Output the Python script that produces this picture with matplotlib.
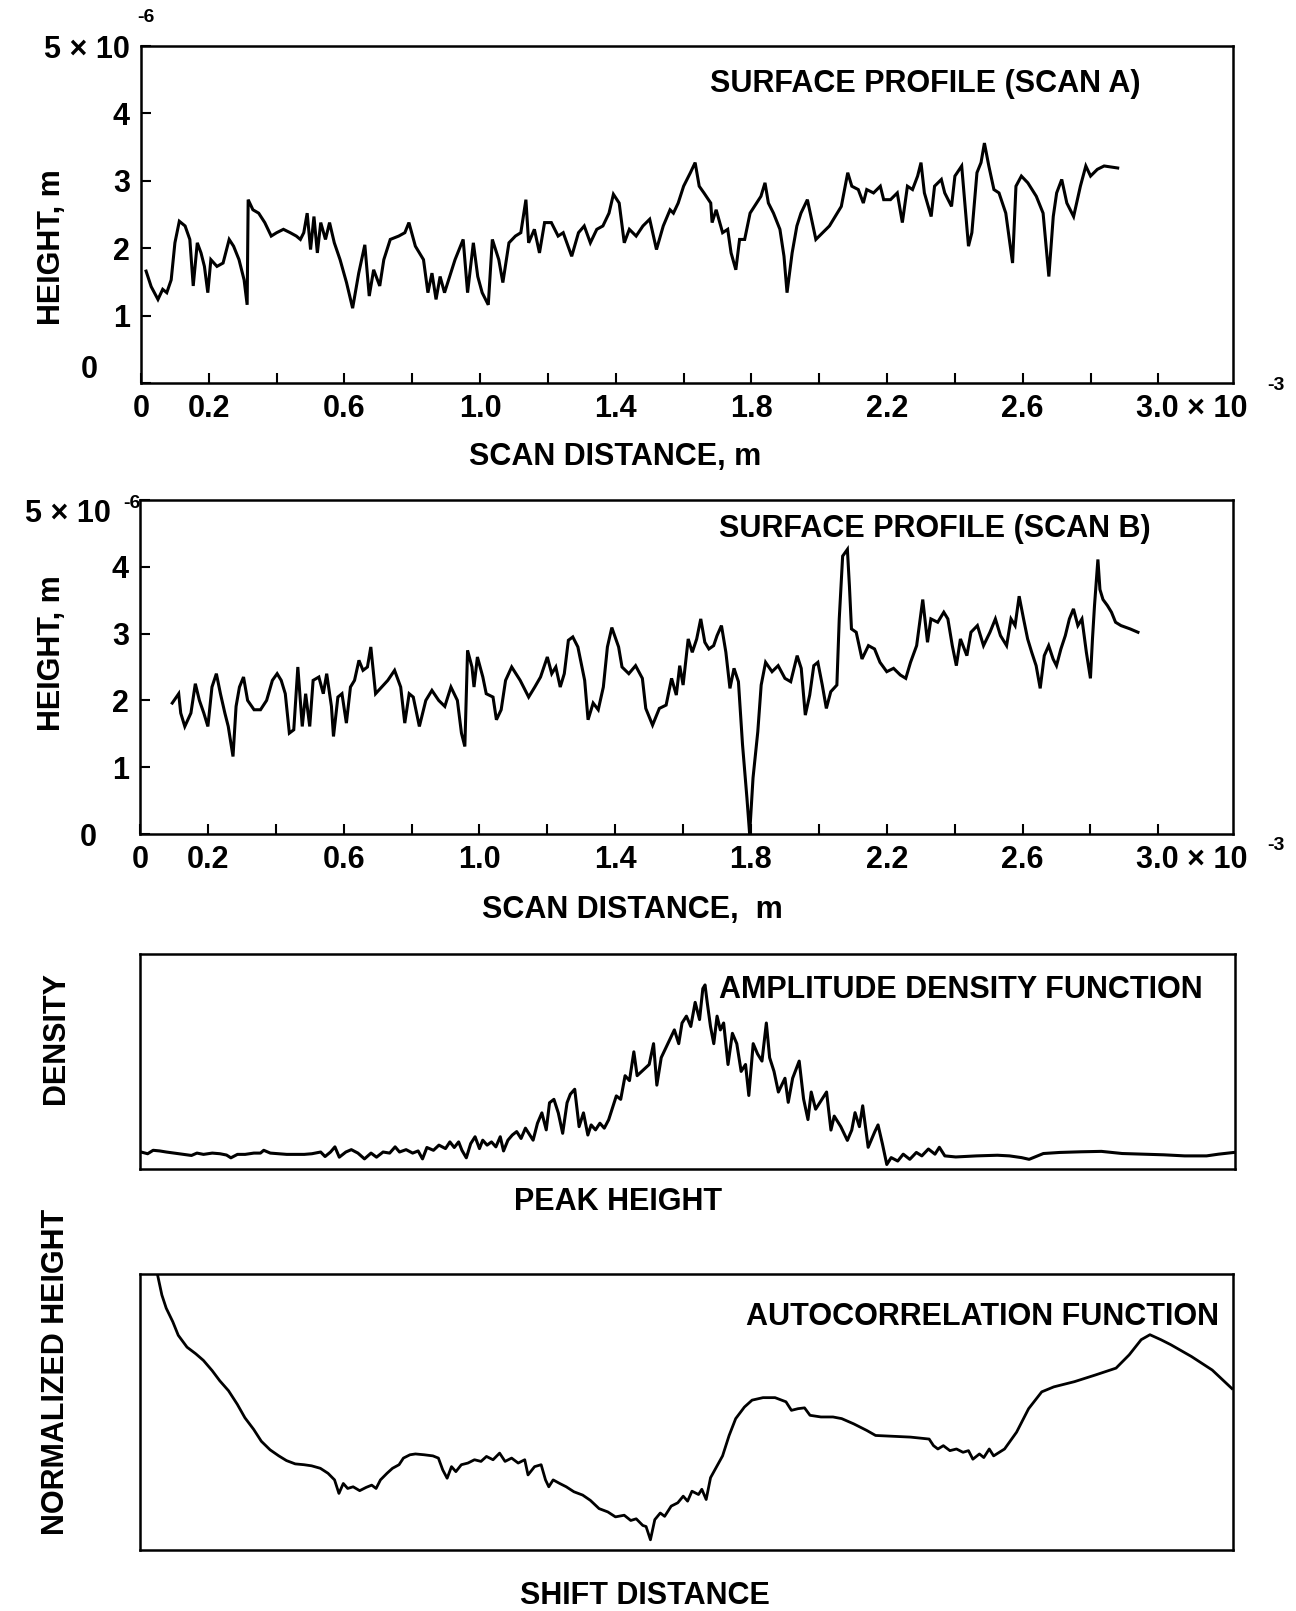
import matplotlib
matplotlib.use("Agg")
import matplotlib.pyplot as plt
from matplotlib.transforms import ScaledTranslation

plt.rcParams['font.family'] = ['Liberation Sans', 'DejaVu Sans']
plt.rcParams['font.weight'] = 'bold'

# scan distance in 1e-3 m, height in 1e-6 m
scan_a_x = [0.015, 0.03, 0.05, 0.064, 0.076, 0.089, 0.10, 0.113, 0.13, 0.144,
            0.154, 0.166, 0.177, 0.187, 0.197, 0.206, 0.224, 0.242, 0.26, 0.273,
            0.289, 0.304, 0.313, 0.316, 0.33, 0.347, 0.365, 0.384, 0.40, 0.42,
            0.44, 0.458, 0.47, 0.48, 0.49, 0.50, 0.51, 0.52, 0.53, 0.544,
            0.556, 0.57, 0.587, 0.606, 0.624, 0.642, 0.66, 0.673, 0.686, 0.704,
            0.716, 0.735, 0.76, 0.778, 0.79, 0.809, 0.833, 0.846, 0.858, 0.87,
            0.882, 0.895, 0.907, 0.926, 0.95, 0.963, 0.98, 0.993, 1.006, 1.024,
            1.036, 1.055, 1.067, 1.085, 1.104, 1.12, 1.135, 1.143, 1.16, 1.175,
            1.19, 1.21, 1.23, 1.245, 1.27, 1.29, 1.307, 1.325, 1.344, 1.362,
            1.38, 1.393, 1.41, 1.425, 1.44, 1.46, 1.48,
            1.50, 1.52, 1.54, 1.56, 1.57, 1.584, 1.60, 1.62, 1.634, 1.646,
            1.66, 1.68, 1.684, 1.696, 1.715, 1.73, 1.74, 1.754, 1.765, 1.78,
            1.796, 1.815, 1.828, 1.84, 1.85, 1.865, 1.884, 1.896, 1.905, 1.92,
            1.934, 1.946, 1.965, 1.99, 2.03, 2.065, 2.084, 2.096, 2.115, 2.13,
            2.14, 2.16, 2.18, 2.19, 2.21, 2.23, 2.245, 2.26, 2.275, 2.29,
            2.30, 2.31, 2.33, 2.34, 2.36, 2.37, 2.39, 2.40, 2.42, 2.44,
            2.45, 2.465, 2.477, 2.487, 2.50, 2.515, 2.53, 2.55, 2.57, 2.58,
            2.596, 2.615, 2.64, 2.66, 2.677, 2.69, 2.70, 2.715, 2.73, 2.75,
            2.77, 2.786, 2.80, 2.82, 2.84, 2.88]
scan_a_h = [1.66, 1.43, 1.24, 1.39, 1.34, 1.53, 2.08, 2.40, 2.33, 2.13,
            1.44, 2.08, 1.93, 1.73, 1.34, 1.83, 1.73, 1.78, 2.13, 2.03,
            1.83, 1.53, 1.16, 2.72, 2.57, 2.52, 2.38, 2.18, 2.23, 2.28,
            2.23, 2.18, 2.13, 2.23, 2.52, 1.98, 2.47, 1.93, 2.38, 2.13,
            2.38, 2.08, 1.83, 1.49, 1.11, 1.63, 2.05, 1.29, 1.68, 1.44,
            1.83, 2.13, 2.18, 2.23, 2.38, 2.03, 1.83, 1.34, 1.63, 1.24,
            1.58, 1.34, 1.53, 1.83, 2.13, 1.34, 2.08, 1.58, 1.34, 1.16,
            2.13, 1.83, 1.49, 2.08, 2.18, 2.23, 2.72, 2.08, 2.28, 1.93,
            2.38, 2.38, 2.18, 2.23, 1.88, 2.23, 2.33, 2.08, 2.28, 2.33,
            2.52, 2.80, 2.67, 2.08, 2.28, 2.18, 2.33,
            2.43, 1.98, 2.33, 2.57, 2.52, 2.67, 2.92, 3.12, 3.27, 2.92,
            2.82, 2.67, 2.38, 2.57, 2.23, 2.28, 1.93, 1.68, 2.13, 2.13,
            2.52, 2.67, 2.77, 2.97, 2.67, 2.52, 2.28, 1.88, 1.34, 1.93,
            2.33, 2.52, 2.72, 2.13, 2.33, 2.62, 3.12, 2.92, 2.87, 2.67,
            2.87, 2.82, 2.92, 2.72, 2.72, 2.82, 2.38, 2.92, 2.87, 3.07,
            3.27, 2.82, 2.47, 2.92, 3.02, 2.82, 2.62, 3.07, 3.22, 2.03,
            2.23, 3.12, 3.27, 3.56, 3.22, 2.87, 2.82, 2.52, 1.78, 2.92,
            3.07, 2.97, 2.77, 2.52, 1.58, 2.47, 2.82, 3.02, 2.67, 2.47,
            2.92, 3.22, 3.07, 3.17, 3.22, 3.19]

scan_b_x = [0.095, 0.114, 0.12, 0.132, 0.15, 0.163, 0.175, 0.188, 0.2, 0.212,
            0.225, 0.237, 0.25, 0.26, 0.274, 0.283, 0.293, 0.305, 0.317, 0.336,
            0.355, 0.373, 0.39, 0.404, 0.416, 0.428, 0.44, 0.453, 0.465, 0.478,
            0.488, 0.50, 0.51, 0.527, 0.54, 0.55, 0.564, 0.57, 0.583, 0.595,
            0.608, 0.62, 0.632, 0.645, 0.657, 0.67, 0.68, 0.694, 0.712, 0.73,
            0.75, 0.768, 0.78, 0.793, 0.805, 0.823, 0.842, 0.86, 0.88, 0.898,
            0.916, 0.935, 0.947, 0.957, 0.965, 0.978, 0.984, 0.994, 1.01, 1.02,
            1.04, 1.05, 1.064, 1.077, 1.095, 1.12, 1.145, 1.163, 1.18, 1.2,
            1.213, 1.225, 1.238, 1.25, 1.262, 1.275, 1.29, 1.31, 1.32, 1.335,
            1.35, 1.365, 1.377, 1.39, 1.41, 1.42, 1.44,
            1.46, 1.48, 1.49, 1.51, 1.53, 1.55, 1.566, 1.58, 1.59, 1.60,
            1.615, 1.627, 1.64, 1.652, 1.664, 1.676, 1.69, 1.70, 1.713, 1.726,
            1.738, 1.75, 1.763, 1.775, 1.788, 1.796, 1.806, 1.82, 1.83, 1.843,
            1.862, 1.88, 1.90, 1.917, 1.936, 1.948, 1.96, 1.973, 1.985, 1.997,
            2.01, 2.022, 2.035, 2.053, 2.06, 2.07, 2.084, 2.09, 2.096, 2.11,
            2.127, 2.146, 2.164, 2.18, 2.20, 2.22, 2.24, 2.256, 2.27, 2.288,
            2.306, 2.32, 2.33, 2.35, 2.368, 2.38, 2.393, 2.405, 2.417, 2.436,
            2.448, 2.467, 2.485, 2.504, 2.52, 2.535, 2.553, 2.566, 2.578, 2.59,
            2.603, 2.615, 2.627, 2.64, 2.652, 2.664, 2.677, 2.69, 2.70, 2.713,
            2.726, 2.738, 2.75, 2.763, 2.775, 2.788, 2.80, 2.806, 2.812, 2.822,
            2.828, 2.837, 2.85, 2.862, 2.874, 2.89, 2.917, 2.94]
scan_b_h = [1.96, 2.10, 1.81, 1.61, 1.81, 2.25, 2.0, 1.81, 1.61, 2.2,
            2.40, 2.10, 1.81, 1.61, 1.16, 1.91, 2.20, 2.35, 2.0, 1.86,
            1.86, 2.0, 2.30, 2.40, 2.30, 2.10, 1.51, 1.56, 2.50, 1.61,
            2.10, 1.61, 2.30, 2.35, 2.10, 2.40, 1.91, 1.46, 2.05, 2.10,
            1.66, 2.20, 2.30, 2.60, 2.45, 2.50, 2.80, 2.10, 2.20, 2.30,
            2.45, 2.20, 1.66, 2.10, 2.05, 1.61, 2.0, 2.15, 2.0, 1.91,
            2.20, 2.0, 1.51, 1.31, 2.75, 2.50, 2.20, 2.65, 2.35, 2.10,
            2.05, 1.71, 1.86, 2.30, 2.50, 2.30, 2.05, 2.20, 2.35, 2.65,
            2.40, 2.50, 2.20, 2.40, 2.90, 2.95, 2.80, 2.30, 1.71, 1.96,
            1.86, 2.20, 2.80, 3.09, 2.80, 2.50, 2.40,
            2.52, 2.33, 1.88, 1.63, 1.88, 1.93, 2.33, 2.08, 2.52, 2.23,
            2.92, 2.72, 2.92, 3.22, 2.87, 2.77, 2.82, 2.97, 3.12, 2.72,
            2.18, 2.48, 2.28, 1.34, 0.54, 0.0, 0.84, 1.53, 2.23, 2.57,
            2.43, 2.52, 2.33, 2.28, 2.67, 2.48, 1.78, 2.08, 2.52, 2.57,
            2.23, 1.88, 2.13, 2.23, 3.22, 4.16, 4.26, 3.71, 3.07, 3.02,
            2.62, 2.82, 2.77, 2.57, 2.43, 2.48, 2.38, 2.33, 2.57, 2.82,
            3.51, 2.87, 3.22, 3.17, 3.32, 3.22, 2.82, 2.52, 2.92, 2.67,
            3.02, 3.12, 2.82, 3.02, 3.22, 2.97, 2.82, 3.22, 3.12, 3.56,
            3.22, 2.92, 2.72, 2.52, 2.18, 2.67, 2.82, 2.62, 2.52, 2.77,
            2.97, 3.22, 3.37, 3.12, 3.22, 2.72, 2.33, 2.92, 3.42, 4.11,
            3.66, 3.51, 3.42, 3.32, 3.17, 3.12, 3.07, 3.02]

# amplitude density (arbitrary units, % of frame)
dens_x = [0.1, 0.7, 1.2, 1.8, 2.4, 3.1, 3.9, 4.7, 5.2, 5.8,
          6.6, 7.3, 7.9, 8.3, 8.9, 9.6, 10.4, 11.0, 11.3, 11.9,
          12.7, 13.4, 14.2, 15.0, 15.7, 16.5, 16.9, 17.4, 17.8, 18.2,
          18.8, 19.3, 19.9, 20.5, 21.1, 21.6, 22.2, 22.8, 23.3, 23.7,
          24.3, 24.9, 25.4, 25.8, 26.2, 26.8, 27.3, 27.9, 28.3, 28.7,
          29.1, 29.4, 29.8, 30.2, 30.6, 31.0, 31.3, 31.7, 32.1, 32.5,
          32.9, 33.2, 33.6, 34.0, 34.4, 34.8, 35.2, 35.5, 35.9, 36.3,
          36.7, 37.1, 37.4, 37.8, 38.2, 38.6, 39.0, 39.3, 39.7, 40.1,
          40.5, 40.9, 41.2, 41.6, 42.0, 42.4, 42.8, 43.2, 43.5, 43.9,
          44.3, 44.7, 45.1, 45.4,
          46.5, 46.9, 47.2, 47.6, 48.2, 48.8, 49.2, 49.5, 49.9, 50.3,
          50.7, 51.1, 51.4, 51.6, 51.8, 52.1, 52.4, 52.7, 53.0, 53.3,
          53.7, 54.1, 54.5, 54.9, 55.3, 55.6, 56.0, 56.4, 56.8, 57.2,
          57.5, 57.9, 58.3, 58.9, 59.2, 59.6, 60.2, 60.6, 61.0, 61.3,
          61.7, 62.3, 62.7, 63.1, 63.4, 64.0, 64.6, 65.0, 65.3, 65.7,
          66.0, 66.5, 67.1, 67.4, 67.8, 68.2, 68.6, 69.2, 69.7, 70.3,
          70.9, 71.4, 72.0, 72.6, 73.0, 73.5, 74.5, 76.4, 78.3, 79.4,
          80.5, 81.2, 82.5, 84.0, 85.9, 87.8, 89.7, 91.6, 93.5, 95.4,
          97.4, 98.5, 99.9]
dens_y = [7.9, 7.1, 8.7, 8.4, 7.9, 7.4, 6.8, 6.3, 7.4, 6.8,
          7.4, 7.1, 6.5, 5.2, 6.8, 6.8, 7.4, 7.4, 8.7, 7.4,
          7.1, 6.8, 6.8, 6.8, 7.1, 7.9, 5.8, 7.9, 10.3, 5.5,
          7.9, 9.0, 7.4, 4.7, 7.4, 5.5, 7.9, 7.4, 10.3, 7.9,
          9.0, 7.4, 8.4, 4.7, 10.0, 8.7, 11.1, 9.5, 12.6, 10.0,
          12.6, 8.7, 5.2, 11.8, 15.0, 9.5, 13.4, 11.1, 12.6, 10.3,
          15.0, 8.4, 13.4, 15.8, 17.4, 14.2, 19.0, 16.6, 13.4, 21.3,
          26.1, 18.2, 30.8, 32.4, 26.1, 16.6, 30.8, 34.8, 37.1, 19.7,
          26.1, 15.8, 20.5, 18.2, 21.3, 19.0, 22.9, 29.2, 34.0, 32.4,
          43.4, 41.1, 54.5, 43.4,
          48.6, 58.3, 39.0, 51.8, 58.3, 64.7, 58.3, 67.9, 71.1, 66.3,
          77.5, 69.5, 83.9, 85.6, 77.5, 66.3, 58.3, 71.1, 64.7, 67.9,
          48.6, 63.1, 58.3, 45.4, 48.6, 34.2, 58.3, 53.5, 50.2, 67.9,
          51.8, 45.4, 35.8, 42.2, 31.0, 42.2, 50.2, 32.6, 23.0, 35.8,
          27.8, 32.6, 35.8, 18.1, 24.6, 19.7, 13.3, 18.1, 26.2, 19.7,
          29.4, 10.1, 17.3, 20.5, 11.7, 2.1, 5.3, 3.7, 6.9, 4.5,
          7.7, 6.1, 9.3, 6.9, 10.1, 6.1, 5.6, 6.1, 6.4, 6.1,
          5.3, 4.5, 7.2, 7.7, 8.0, 8.2, 7.2, 6.9, 6.6, 6.1,
          6.1, 6.9, 7.7]

# autocorrelation (arbitrary units, % of frame)
acf_x = [1.6, 2.0, 2.4, 3.0, 3.5, 4.3, 5.1, 5.8, 6.6, 7.3,
         8.1, 8.9, 9.6, 10.4, 11.1, 11.9, 12.7, 13.4, 14.2, 15.0,
         15.7, 16.5, 17.2, 17.8, 18.2, 18.6, 19.0, 19.5, 20.1, 20.7,
         21.2, 21.6, 22.0, 22.6, 23.1, 23.7, 24.1, 24.7, 25.2, 26.0,
         26.8, 27.3, 27.7, 28.1, 28.5, 28.9, 29.4, 30.0, 30.6, 31.2,
         31.7, 32.3, 32.9, 33.4, 34.0, 34.6, 35.2, 35.5, 36.1, 36.7,
         37.1, 37.4, 37.8, 38.4, 39.0, 39.7, 40.5, 41.2, 42.0, 42.8,
         43.5, 44.3, 44.9, 45.4, 46.0,
         46.3, 46.7, 47.1, 47.6, 48.0, 48.6, 49.2, 49.7, 50.1, 50.5,
         51.1, 51.4, 51.8, 52.2, 52.8, 53.3, 53.9, 54.5, 55.3, 56.0,
         57.0, 58.1, 59.1, 59.6, 60.2, 60.8, 61.3, 62.3, 63.4, 64.2,
         65.3, 66.5, 67.3, 68.8, 70.5, 72.2, 72.6, 73.0, 73.5, 74.1,
         74.7, 75.3, 75.8, 76.2, 76.8, 77.2, 77.7, 78.1, 79.1, 80.2,
         81.3, 82.5, 83.6, 85.5, 87.4, 89.3, 90.5, 91.6, 92.4, 93.4,
         94.3, 96.2, 98.1, 99.9]
acf_y = [99.8, 92.4, 87.6, 82.7, 77.8, 73.5, 71.1, 68.7, 65.0, 61.3,
         57.7, 52.8, 47.9, 43.7, 39.4, 36.3, 34.1, 32.4, 31.2, 30.9,
         30.5, 29.6, 27.8, 25.4, 20.5, 24.1, 22.3, 22.9, 21.5, 22.7,
         23.5, 22.3, 25.4, 27.8, 29.6, 30.9, 33.3, 34.5, 34.8, 34.5,
         34.1, 33.3, 29.0, 26.0, 30.2, 28.4, 30.9, 31.5, 32.7, 32.1,
         33.9, 32.7, 35.1, 32.1, 33.3, 31.5, 32.7, 27.2, 30.2, 30.9,
         25.4, 22.9, 25.4, 24.1, 22.9, 21.1, 19.9, 18.0, 15.0, 13.8,
         12.0, 12.6, 10.7, 11.3, 8.9,
         8.5, 3.7, 11.0, 13.4, 12.2, 15.9, 17.1, 19.5, 17.7, 21.3,
         20.1, 22.0, 18.3, 26.2, 30.5, 34.1, 41.5, 47.6, 51.8, 54.3,
         55.2, 55.2, 53.7, 50.6, 51.2, 51.5, 48.8, 48.2, 48.2, 47.6,
         45.7, 43.3, 41.5, 41.2, 40.9, 40.2, 37.8, 36.6, 37.8, 36.0,
         36.6, 35.4, 36.0, 32.9, 34.8, 33.5, 36.6, 34.1, 36.6, 42.7,
         51.2, 57.3, 59.1, 61.0, 63.4, 65.9, 70.7, 76.2, 78.0, 76.2,
         74.4, 70.1, 65.2, 58.5]

x_major = [0, 0.2, 0.6, 1.0, 1.4, 1.8, 2.2, 2.6, 3.0]
x_major_labels = ['0', '0.2', '0.6', '1.0', '1.4', '1.8', '2.2', '2.6', '3.0 × 10']
x_minor = [0.4, 0.8, 1.2, 1.6, 2.0, 2.4, 2.8]
y_ticks = [0, 1, 2, 3, 4, 5]
y_labels = ['0', '1', '2', '3', '4', '5 × 10']

W, H = 1296, 1611
fig = plt.figure(figsize=(W / 100, H / 100), dpi=100)


def box(l, t, r, b):
    return [l / W, 1 - b / H, (r - l) / W, (b - t) / H]


def ftext(x, y, s, **kw):
    kw.setdefault('fontsize', 22)
    kw.setdefault('fontweight', 'bold')
    fig.text(x / W, 1 - y / H, s, ha=kw.pop('ha', 'center'), va=kw.pop('va', 'center'), **kw)


def frame(ax):
    for sp in ax.spines.values():
        sp.set_linewidth(1.8)


def profile_axes(rect, xs, hs, zero_dy, top_dx, top_dy):
    ax = fig.add_axes(rect)
    ax.plot(xs, hs, color='black', lw=2.2, solid_joinstyle='miter')
    ax.set_xlim(0, 3.22)
    ax.set_ylim(0, 5)
    ax.set_xticks(x_major)
    ax.set_xticklabels(x_major_labels)
    ax.set_xticks(x_minor, minor=True)
    ax.set_yticks(y_ticks)
    ax.set_yticklabels(y_labels)
    ax.tick_params(which='both', direction='in', length=7, width=1.5,
                   labelsize=22, pad=8)
    frame(ax)
    labs = ax.get_xticklabels()
    labs[-1].set_ha('left')
    labs[-1].set_transform(labs[-1].get_transform() +
                           ScaledTranslation(-0.22, 0, fig.dpi_scale_trans))
    ylabs = ax.get_yticklabels()
    ylabs[0].set_transform(ylabs[0].get_transform() +
                           ScaledTranslation(-0.32, zero_dy / 100, fig.dpi_scale_trans))
    ylabs[-1].set_transform(ylabs[-1].get_transform() +
                            ScaledTranslation(top_dx / 100, top_dy / 100, fig.dpi_scale_trans))
    return ax


# scan A
profile_axes(box(141, 46, 1233, 383), scan_a_x, scan_a_h, 17, 0, 0)
ftext(146, 18, '-6', fontsize=14)
ftext(1276, 386, '-3', fontsize=14)
ftext(52, 247, 'HEIGHT, m', rotation=90)
ftext(615, 457, 'SCAN DISTANCE, m')
ftext(925, 84, 'SURFACE PROFILE (SCAN A)')

# scan B
profile_axes(box(140, 500, 1233, 834), scan_b_x, scan_b_h, 0, -18, -10)
ftext(132, 503, '-6', fontsize=14)
ftext(1276, 846, '-3', fontsize=14)
ftext(52, 653, 'HEIGHT, m', rotation=90)
ftext(632, 910, 'SCAN DISTANCE,  m')
ftext(935, 529, 'SURFACE PROFILE (SCAN B)')

# amplitude density
ax3 = fig.add_axes(box(140, 954, 1235, 1169))
ax3.plot(dens_x, dens_y, color='black', lw=2.2)
ax3.set_xlim(0, 100)
ax3.set_ylim(0, 100)
ax3.set_xticks([])
ax3.set_yticks([])
frame(ax3)
ftext(56, 1038, 'DENSITY', rotation=90)
ftext(618, 1202, 'PEAK HEIGHT')
ftext(961, 990, 'AMPLITUDE DENSITY FUNCTION')

# autocorrelation
ax4 = fig.add_axes(box(140, 1274, 1233, 1550))
ax4.plot(acf_x, acf_y, color='black', lw=2.0)
ax4.set_xlim(0, 100)
ax4.set_ylim(0, 100)
ax4.set_xticks([])
ax4.set_yticks([])
frame(ax4)
ftext(56, 1372, 'NORMALIZED HEIGHT', rotation=90)
ftext(645, 1596, 'SHIFT DISTANCE')
ftext(982, 1317, 'AUTOCORRELATION FUNCTION')

fig.savefig('out.png', dpi=100)
